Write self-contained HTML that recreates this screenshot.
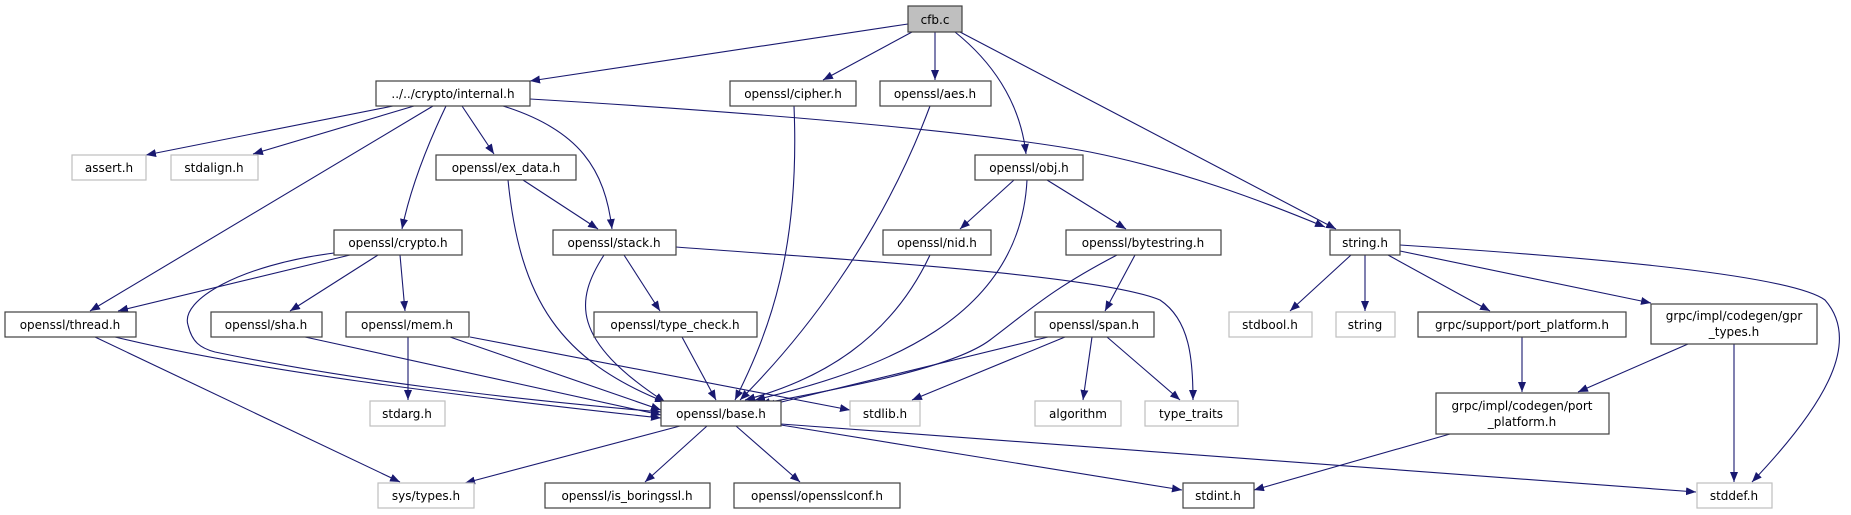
<!DOCTYPE html>
<html><head><meta charset="utf-8"><style>
html,body{margin:0;padding:0;background:#fff}
svg{display:block}
text{font-family:"DejaVu Sans","Liberation Sans",sans-serif;font-size:12px;fill:#000;text-anchor:middle}
.n{fill:#fff;stroke:#404040;stroke-width:1.2}
.g{fill:#fff;stroke:#bfbfbf;stroke-width:1.2}
.e{fill:none;stroke:#191970;stroke-width:1.1;marker-end:url(#a)}
</style></head><body>
<svg width="1851" height="515" viewBox="0 0 1851 515" xmlns="http://www.w3.org/2000/svg">
<defs><marker id="a" viewBox="0 0 10 8" refX="10" refY="4" markerWidth="10" markerHeight="8" markerUnits="userSpaceOnUse" orient="auto"><path d="M0,0 L10,4 L0,8 z" fill="#191970"/></marker></defs>
<g>
<path class="e" d="M908,24 L530,81"/>
<path class="e" d="M912,32 L823,80"/>
<path class="e" d="M935,32 L935,80"/>
<path class="e" d="M955,32 C990,60 1020,100 1026,154"/>
<path class="e" d="M960,32 L1336,229"/>
<path class="e" d="M393,106 L146,155"/>
<path class="e" d="M414,106 L253,154"/>
<path class="e" d="M433,106 L90,311"/>
<path class="e" d="M446,106 C425,150 410,190 402,229"/>
<path class="e" d="M462,106 L494,154"/>
<path class="e" d="M503,106 C580,130 605,170 612,229"/>
<path class="e" d="M530,99 C800,115 1000,135 1090,152 C1180,170 1260,200 1325,227"/>
<path class="e" d="M523,180 L598,229"/>
<path class="e" d="M508,180 C520,300 560,360 665,402"/>
<path class="e" d="M350,255 L118,311"/>
<path class="e" d="M378,255 L290,311"/>
<path class="e" d="M400,255 L405,311"/>
<path class="e" d="M334,253 C240,265 180,300 188,325 C192,342 200,348 215,352 C350,380 500,398 661,412"/>
<path class="e" d="M604,255 C575,300 570,340 665,402"/>
<path class="e" d="M624,255 L660,311"/>
<path class="e" d="M676,247 C850,260 1100,275 1160,300 C1190,320 1193,360 1193,400"/>
<path class="e" d="M115,337 C250,370 450,395 661,418"/>
<path class="e" d="M95,337 L400,482"/>
<path class="e" d="M305,337 L661,415"/>
<path class="e" d="M408,337 L408,400"/>
<path class="e" d="M450,337 L661,410"/>
<path class="e" d="M470,337 L850,410"/>
<path class="e" d="M682,337 L716,400"/>
<path class="e" d="M794,106 C800,250 770,330 735,400"/>
<path class="e" d="M930,106 C880,240 800,340 740,400"/>
<path class="e" d="M1014,180 L960,229"/>
<path class="e" d="M1047,180 L1126,229"/>
<path class="e" d="M1027,180 C1020,320 880,370 755,400"/>
<path class="e" d="M930,255 C890,340 820,380 745,400"/>
<path class="e" d="M1135,255 L1105,311"/>
<path class="e" d="M1117,255 C1050,290 1030,310 990,340 C950,370 830,390 760,404"/>
<path class="e" d="M1048,337 L765,406"/>
<path class="e" d="M1065,337 L912,400"/>
<path class="e" d="M1092,337 L1083,400"/>
<path class="e" d="M1107,337 L1180,400"/>
<path class="e" d="M680,426 L465,483"/>
<path class="e" d="M707,426 L645,482"/>
<path class="e" d="M736,426 L800,482"/>
<path class="e" d="M781,425 L1182,490"/>
<path class="e" d="M781,424 L1696,492"/>
<path class="e" d="M1351,255 L1290,311"/>
<path class="e" d="M1365,255 L1365,311"/>
<path class="e" d="M1388,255 L1490,311"/>
<path class="e" d="M1400,251 L1651,303"/>
<path class="e" d="M1400,245 C1600,258 1790,275 1825,300 C1860,340 1830,400 1752,482"/>
<path class="e" d="M1522,337 L1522,392"/>
<path class="e" d="M1688,344 L1578,392"/>
<path class="e" d="M1734,344 L1734,482"/>
<path class="e" d="M1450,434 L1254,490"/>
</g>
<g>
<rect x="908" y="6" width="54" height="26" fill="#bfbfbf" stroke="#404040" stroke-width="1.2"/><text x="935" y="24">cfb.c</text>
<rect class="n" x="376" y="81" width="154" height="25"/><text x="453" y="98">../../crypto/internal.h</text>
<rect class="n" x="730" y="81" width="126" height="25"/><text x="793" y="98">openssl/cipher.h</text>
<rect class="n" x="880" y="81" width="111" height="25"/><text x="935" y="98">openssl/aes.h</text>
<rect class="g" x="72" y="155" width="74" height="25"/><text x="109" y="172">assert.h</text>
<rect class="g" x="171" y="155" width="87" height="25"/><text x="214" y="172">stdalign.h</text>
<rect class="n" x="436" y="155" width="140" height="25"/><text x="506" y="172">openssl/ex_data.h</text>
<rect class="n" x="975" y="155" width="108" height="25"/><text x="1029" y="172">openssl/obj.h</text>
<rect class="n" x="334" y="230" width="128" height="25"/><text x="398" y="247">openssl/crypto.h</text>
<rect class="n" x="553" y="230" width="123" height="25"/><text x="614" y="247">openssl/stack.h</text>
<rect class="n" x="883" y="230" width="108" height="25"/><text x="937" y="247">openssl/nid.h</text>
<rect class="n" x="1066" y="230" width="155" height="25"/><text x="1143" y="247">openssl/bytestring.h</text>
<rect class="n" x="1330" y="230" width="70" height="25"/><text x="1365" y="247">string.h</text>
<rect class="n" x="5" y="312" width="131" height="25"/><text x="70" y="329">openssl/thread.h</text>
<rect class="n" x="211" y="312" width="111" height="25"/><text x="266" y="329">openssl/sha.h</text>
<rect class="n" x="346" y="312" width="123" height="25"/><text x="407" y="329">openssl/mem.h</text>
<rect class="n" x="594" y="312" width="163" height="25"/><text x="675" y="329">openssl/type_check.h</text>
<rect class="n" x="1035" y="312" width="119" height="25"/><text x="1094" y="329">openssl/span.h</text>
<rect class="g" x="1229" y="312" width="83" height="25"/><text x="1270" y="329">stdbool.h</text>
<rect class="g" x="1336" y="312" width="59" height="25"/><text x="1365" y="329">string</text>
<rect class="n" x="1418" y="312" width="208" height="25"/><text x="1522" y="329">grpc/support/port_platform.h</text>
<rect class="n" x="1651" y="304" width="166" height="40"/><text x="1734" y="320">grpc/impl/codegen/gpr</text><text x="1734" y="336">_types.h</text>
<rect class="g" x="370" y="401" width="75" height="25"/><text x="407" y="418">stdarg.h</text>
<rect class="n" x="661" y="401" width="120" height="25"/><text x="721" y="418">openssl/base.h</text>
<rect class="g" x="850" y="401" width="70" height="25"/><text x="885" y="418">stdlib.h</text>
<rect class="g" x="1035" y="401" width="86" height="25"/><text x="1078" y="418">algorithm</text>
<rect class="g" x="1145" y="401" width="93" height="25"/><text x="1191" y="418">type_traits</text>
<rect class="n" x="1436" y="393" width="173" height="41"/><text x="1522" y="410">grpc/impl/codegen/port</text><text x="1522" y="426">_platform.h</text>
<rect class="g" x="378" y="483" width="96" height="25"/><text x="426" y="500">sys/types.h</text>
<rect class="n" x="545" y="483" width="165" height="25"/><text x="627" y="500">openssl/is_boringssl.h</text>
<rect class="n" x="734" y="483" width="166" height="25"/><text x="817" y="500">openssl/opensslconf.h</text>
<rect class="n" x="1183" y="483" width="71" height="25"/><text x="1218" y="500">stdint.h</text>
<rect class="g" x="1697" y="483" width="75" height="25"/><text x="1734" y="500">stddef.h</text>
</g>
</svg>
</body></html>
